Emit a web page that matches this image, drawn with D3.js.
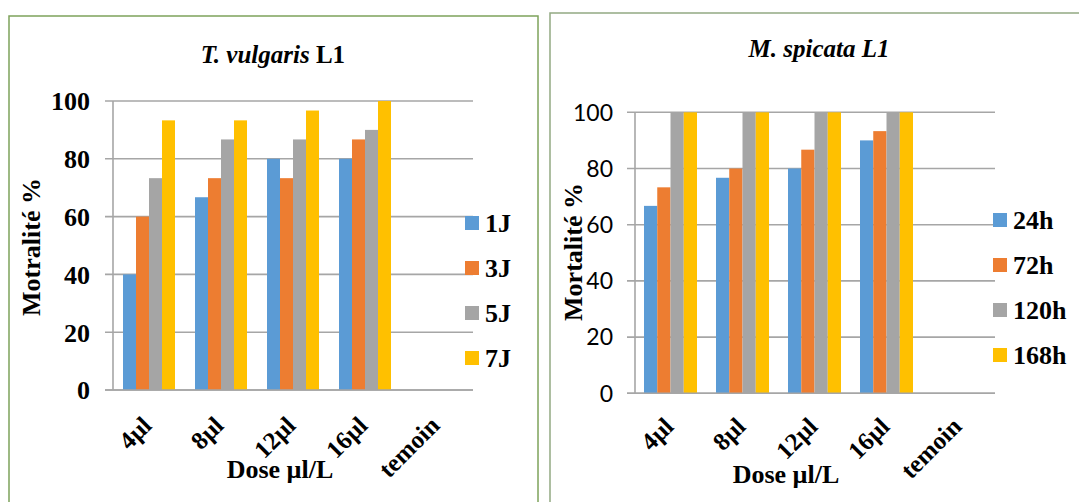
<!DOCTYPE html>
<html>
<head>
<meta charset="utf-8">
<script src="https://cdn.jsdelivr.net/npm/d3@7"></script>
<style>
  html, body { margin: 0; padding: 0; background: #fff; }
  svg { display: block; }
</style>
</head>
<body>
<svg id="chart" width="1079" height="502"></svg>
<script>
// ---------- DATA ----------
const categories = ["4µl", "8µl", "12µl", "16µl", "temoin"];
const yTicks = [0, 20, 40, 60, 80, 100];

// Left chart: T. vulgaris L1
const leftSeries = ["1J", "3J", "5J", "7J"];
const left1J = [40, 66.7, 80, 80, 0];
const left3J = [60, 73.3, 73.3, 86.7, 0];
const left5J = [73.3, 86.7, 86.7, 90, 0];
const left7J = [93.3, 93.3, 96.7, 100, 0];

// Right chart: M. spicata L1
const rightSeries = ["24h", "72h", "120h", "168h"];
const right24h = [66.7, 76.7, 80, 90, 0];
const right72h = [73.3, 80, 86.7, 93.3, 0];
const right120h = [100, 100, 100, 100, 0];
const right168h = [100, 100, 100, 100, 0];

const colors = ["#5b9bd5", "#ed7d31", "#a5a5a5", "#ffc000"];

// ---------- DRAW ----------
const svg = d3.select("#chart");
const SERIF = "'Liberation Serif', 'Times New Roman', serif";
const SANS = "Lato, 'Liberation Sans', sans-serif";

function drawPanel(cfg) {
  const g = svg.append("g");
  // frame
  g.append("rect")
    .attr("x", cfg.frame[0]).attr("y", cfg.frame[1])
    .attr("width", cfg.frame[2]).attr("height", cfg.frame[3])
    .attr("fill", "none").attr("stroke", cfg.frameColor).attr("stroke-width", 1.5);

  const x0 = d3.scaleBand().domain(categories).range([cfg.x0, cfg.x1]).padding(0);
  const x1 = d3.scaleBand().domain(cfg.series).range([cfg.groupOff, cfg.groupOff + cfg.groupW]).padding(0);
  const y = d3.scaleLinear().domain([0, 100]).range([cfg.yBottom, cfg.yTop]);

  // gridlines
  g.append("g").selectAll("line").data(yTicks).join("line")
    .attr("x1", cfg.x0 - 8).attr("x2", cfg.x1)
    .attr("y1", d => y(d)).attr("y2", d => y(d))
    .attr("stroke", "#a6a6a6").attr("stroke-width", 1.6);
  // y axis line
  g.append("line").attr("x1", cfg.x0).attr("x2", cfg.x0)
    .attr("y1", y(100)).attr("y2", y(0))
    .attr("stroke", "#a6a6a6").attr("stroke-width", 1.6);

  // y tick labels via axis
  const yAxis = d3.axisLeft(y).tickValues(yTicks).tickSize(0).tickPadding(0);
  const ya = g.append("g").attr("transform", `translate(${cfg.yLabelX},0)`).call(yAxis);
  ya.select(".domain").remove();
  ya.selectAll("text")
    .attr("font-family", cfg.tickFont).attr("font-weight", cfg.tickWeight)
    .attr("font-size", cfg.tickSize).attr("fill", "#000").attr("dy", "0.34em");

  // bars
  const groups = g.append("g").selectAll("g").data(categories).join("g")
    .attr("transform", d => `translate(${x0(d)},0)`);
  groups.selectAll("rect")
    .data((c, i) => cfg.series.map((s, k) => ({ s, k, v: cfg.values[k][i] })))
    .join("rect")
    .attr("x", d => x1(d.s))
    .attr("width", x1.bandwidth())
    .attr("y", d => y(d.v))
    .attr("height", d => y(0) - y(d.v))
    .attr("fill", d => colors[d.k]);

  // x axis baseline
  g.append("line").attr("x1", cfg.x0 - 8).attr("x2", cfg.x1)
    .attr("y1", y(0)).attr("y2", y(0))
    .attr("stroke", "#a6a6a6").attr("stroke-width", 1.6);

  // x tick labels
  g.append("g").selectAll("text").data(categories).join("text")
    .attr("transform", d => `translate(${x0(d) + x0.bandwidth() / 2 + 4},${cfg.xLabelY}) rotate(-45)`)
    .attr("text-anchor", "end")
    .attr("font-family", SERIF).attr("font-weight", "bold").attr("font-size", 25)
    .attr("fill", "#000")
    .text(d => d);

  // title
  const t = g.append("text").attr("x", cfg.titleX).attr("y", cfg.titleY)
    .attr("text-anchor", "middle").attr("font-family", SERIF)
    .attr("font-weight", "bold").attr("font-size", 25).attr("fill", "#000");
  cfg.title.forEach(p => t.append("tspan").attr("font-style", p[1] ? "italic" : "normal").text(p[0]));

  // axis titles
  g.append("text").attr("x", cfg.xTitleX).attr("y", cfg.xTitleY)
    .attr("text-anchor", "middle").attr("font-family", SERIF)
    .attr("font-weight", "bold").attr("font-size", 26).attr("fill", "#000")
    .text("Dose µl/L");
  g.append("text")
    .attr("transform", `translate(${cfg.yTitleX},${cfg.yTitleY}) rotate(-90)`)
    .attr("text-anchor", "middle").attr("font-family", SERIF)
    .attr("font-weight", "bold").attr("font-size", 26).attr("fill", "#000")
    .text(cfg.yTitle);

  // legend
  const lg = g.append("g").selectAll("g").data(cfg.series).join("g")
    .attr("transform", (d, i) => `translate(${cfg.legX},${cfg.legY + i * 45})`);
  lg.append("rect").attr("x", 0).attr("y", 0).attr("width", 14).attr("height", 14)
    .attr("fill", (d, i) => colors[i]);
  lg.append("text").attr("x", 20).attr("y", 16)
    .attr("font-family", SERIF).attr("font-weight", "bold").attr("font-size", 26)
    .attr("fill", "#000").text(d => d);
}

drawPanel({
  frame: [9, 16, 529, 520], frameColor: "#7ea35b",
  series: leftSeries, values: [left1J, left3J, left5J, left7J],
  x0: 113, x1: 473, groupOff: 10, groupW: 52,
  yTop: 101, yBottom: 390,
  yLabelX: 90, tickFont: SERIF, tickWeight: "bold", tickSize: 26,
  xLabelY: 427,
  title: [["T. vulgaris ", true], ["L1", false]], titleX: 273, titleY: 63,
  xTitleX: 280, xTitleY: 478,
  yTitle: "Motralité %", yTitleX: 40, yTitleY: 247,
  legX: 465, legY: 216
});

drawPanel({
  frame: [550, 13, 540, 520], frameColor: "#93a983",
  series: rightSeries, values: [right24h, right72h, right120h, right168h],
  x0: 635, x1: 995, groupOff: 9, groupW: 53,
  yTop: 112.3, yBottom: 393.3,
  yLabelX: 613, tickFont: SANS, tickWeight: "normal", tickSize: 23,
  xLabelY: 428,
  title: [["M. spicata L1", true]], titleX: 819, titleY: 57,
  xTitleX: 786, xTitleY: 483,
  yTitle: "Mortalité %", yTitleX: 582, yTitleY: 252,
  legX: 993, legY: 213
});
</script>
</body>
</html>
